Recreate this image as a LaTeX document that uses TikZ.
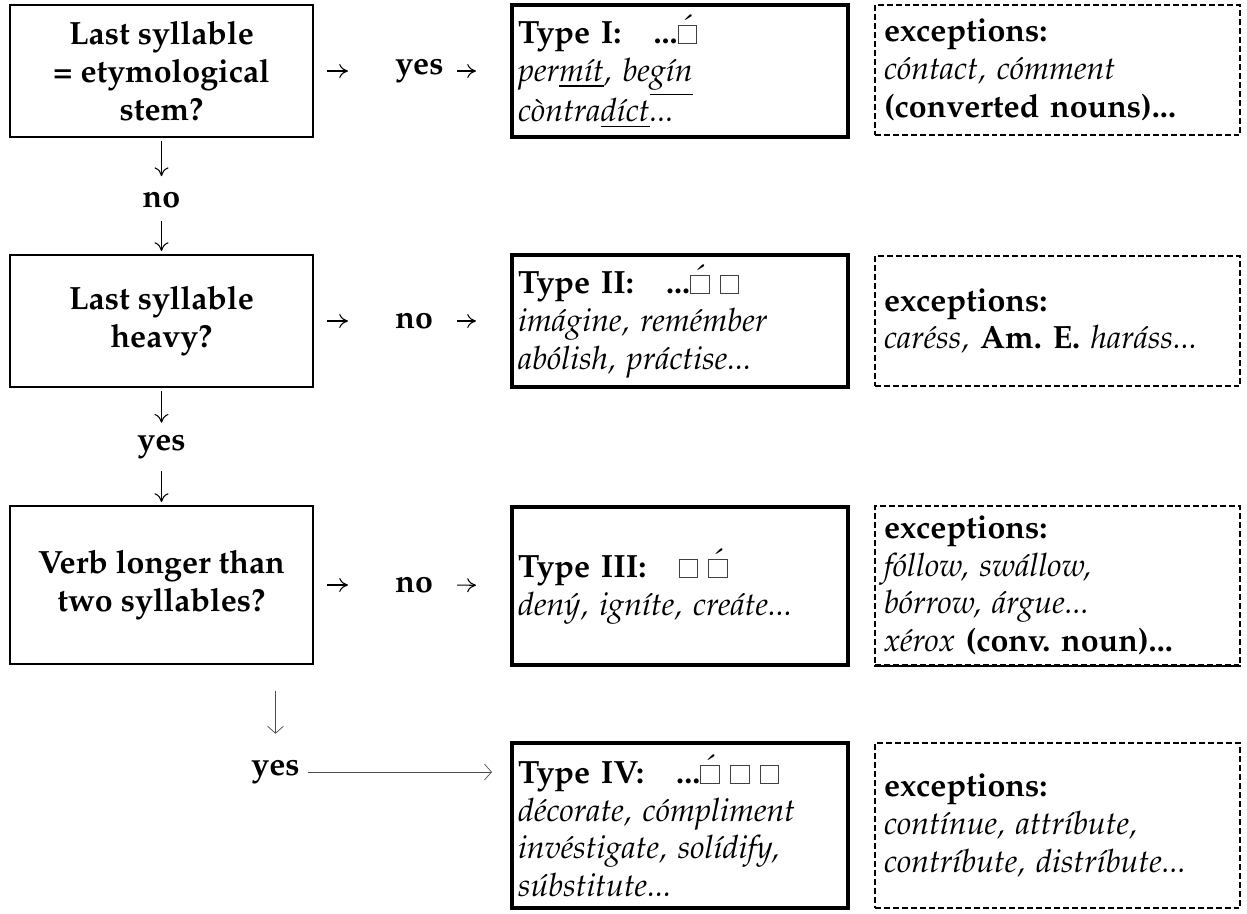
\documentclass[tikz,border=0pt]{standalone}
\usepackage[T1]{fontenc}
\usepackage{mathpazo}
\usetikzlibrary{arrows.meta}

% empty syllable, plain and stressed
\newcommand{\syl}{{\setlength{\fboxsep}{0pt}\setlength{\fboxrule}{0.4pt}\color{black!75}\fbox{\rule{0pt}{0.55em}\rule{0.55em}{0pt}}}}
\newcommand{\ssyl}{\makebox[0pt][l]{\hspace{0.14em}\raisebox{0.22em}{\mdseries\'{}}}\syl}
\newcommand{\ex}[1]{{\mdseries\itshape #1}}

\begin{document}
\begin{tikzpicture}[
    every node/.style={font=\fontsize{18.3}{21.5}\selectfont\bfseries},
    qbox/.style={draw, line width=1.1pt, minimum width=6.06cm, align=center},
    tbox/.style={draw, line width=2.3pt, text width=6.48cm, inner xsep=0.12cm, inner ysep=2pt, align=left},
    xbox/.style={draw, line width=1.1pt, dash pattern=on 3.4pt off 1.7pt, text width=6.94cm, inner xsep=0.18cm, inner ysep=2pt, align=left},
    lbl/.style={inner sep=0pt},
    harr/.style={-{To[length=5pt,width=8pt]}, line width=0.6pt},
    thinarr/.style={-{Straight Barb[length=4pt,width=9pt]}, line width=0.4pt, black!70}
  ]
  \useasboundingbox (0,0) rectangle (24.94,-18.26);

  % stem
  \node[qbox, minimum height=2.64cm] (q1) at (3.23,-1.42) {Last syllable\\= etymological\\stem?};
  \node[lbl, anchor=west] (yes1) at (7.9,-1.42) {yes};
  \node[tbox, minimum height=2.64cm] (t1) at (13.6,-1.42)
    {Type I:\quad ...\ssyl\\
     \ex{per\underline{m\'{\i}t}, be\underline{g\'{\i}n}}\\
     \ex{c\`ontra\underline{d\'{\i}ct}...}};
  \node[xbox, minimum height=2.6cm] (x1) at (21.15,-1.40)
    {exceptions:\\
     \ex{c\'ontact, c\'omment}\\
     (converted nouns)...};
  \draw[harr, shorten <=0.26cm, shorten >=0.94cm] (q1) -- (yes1);
  \draw[harr, shorten <=0.26cm, shorten >=0.68cm] (yes1) -- (t1);

  \node[lbl] (no12) at (3.23,-4.0) {no};
  \draw[harr, shorten <=0.06cm, shorten >=0.31cm] (q1) -- (no12);

  % heavy
  \node[qbox, minimum height=2.64cm] (q2) at (3.23,-6.42) {Last syllable\\heavy?};
  \draw[harr, shorten <=0.25cm, shorten >=0.06cm] (no12) -- (q2);
  \node[lbl, anchor=west] (no2) at (7.9,-6.42) {no};
  \node[tbox, minimum height=2.64cm] (t2) at (13.6,-6.42)
    {Type II:\quad ...\ssyl\ \syl\\
     \ex{im\'agine, rem\'ember}\\
     \ex{ab\'olish, pr\'actise...}};
  \node[xbox, minimum height=2.6cm] (x2) at (21.15,-6.42)
    {exceptions:\\
     \ex{car\'ess,} Am.\ E. \ex{har\'ass...}};
  \draw[harr, shorten <=0.26cm, shorten >=0.94cm] (q2) -- (no2);
  \draw[harr, shorten <=0.48cm, shorten >=0.68cm] (no2) -- (t2);

  \node[lbl] (yes23) at (3.23,-8.94) {yes};
  \draw[harr, shorten <=0.06cm, shorten >=0.24cm] (q2) -- (yes23);

  % length
  \node[qbox, minimum height=3.16cm] (q3) at (3.23,-11.70) {Verb longer than\\two syllables?};
  \draw[harr, shorten <=0.24cm, shorten >=0.06cm] (yes23) -- (q3);
  \node[lbl, anchor=west] (no3) at (7.9,-11.70) {no};
  \node[tbox, minimum height=3.16cm] (t3) at (13.6,-11.72)
    {Type III:\quad \syl\ \ssyl\\
     \ex{den\'y, ign\'{\i}te, cre\'ate...}};
  \node[xbox, minimum height=3.18cm] (x3) at (21.15,-11.71)
    {exceptions:\\
     \ex{f\'ollow, sw\'allow,}\\
     \ex{b\'orrow, \'argue...}\\
     \ex{x\'erox} (conv.\ noun)...};
  \draw[line width=1.1pt] (x3.south west) -- (x3.south east);
  \draw[harr, shorten <=0.26cm, shorten >=0.94cm] (q3) -- (no3);
  \draw[harr, shorten <=0.48cm, shorten >=0.68cm] (no3) -- (t3);

  % longer verbs
  \node[lbl] (yes4) at (5.51,-15.44) {yes};
  \draw[thinarr, shorten <=0.52cm, shorten >=0.52cm] (q3.south -| yes4) -- (yes4);
  \node[tbox, minimum height=3.3cm] (t4) at (13.6,-16.51)
    {Type IV:\quad ...\ssyl\ \syl\ \syl\\
     \ex{d\'ecorate, c\'ompliment}\\
     \ex{inv\'estigate, sol\'{\i}dify,}\\
     \ex{s\'ubstitute...}};
  \node[xbox, minimum height=3.3cm] (x4) at (21.15,-16.51)
    {exceptions:\\
     \ex{cont\'{\i}nue, attr\'{\i}bute,}\\
     \ex{contr\'{\i}bute, distr\'{\i}bute...}};
  \draw[thinarr, shorten <=0.16cm, shorten >=0.36cm] (yes4) -- (yes4 -| t4.west);
\end{tikzpicture}
\end{document}
